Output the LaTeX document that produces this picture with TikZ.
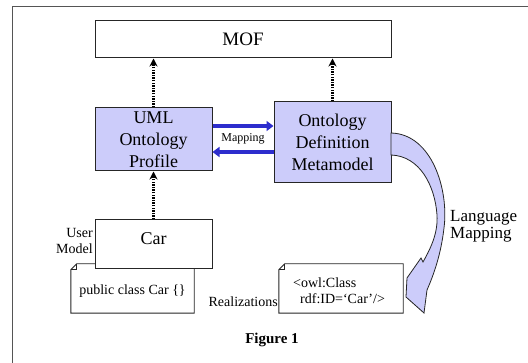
\documentclass[tikz,border=0pt]{standalone}
\usepackage{fontspec}
\setmainfont{Liberation Serif}
\usetikzlibrary{arrows.meta,calc}
\definecolor{boxfill}{RGB}{204,204,250}
\definecolor{bluearr}{RGB}{45,45,205}
\definecolor{framecol}{RGB}{85,85,85}
\tikzset{
  box/.style={draw=black!85, line width=1pt, inner sep=0pt, align=center, font=\fontsize{18}{22}\selectfont},
  umlbox/.style={box, fill=boxfill},
  notetext/.style={inner sep=0pt, font=\fontsize{14}{18}\selectfont},
  notebox/.style={draw=black!85, line width=0.9pt, fill=white},
  dotarr/.style={line width=2.4pt, dash pattern=on 1.4pt off 1.2pt, -{Stealth[length=8pt,width=8pt]}},
  bluearrow/.style={draw=bluearr, line width=4.5pt, -{Triangle[length=7pt,width=10pt]}},
  lbl/.style={inner sep=0pt, font=\fontsize{14}{17}\selectfont},
}
\begin{document}
\begin{tikzpicture}[x=1pt,y=-1pt]
\useasboundingbox (0,0) rectangle (528,363);
\fill[white] (0,0) rectangle (528,363);
% frame
\draw[framecol, line width=1pt] (12,363) -- (12,7) -- (528,7);

% boxes
\node[box, minimum width=296pt, minimum height=37pt, font=\fontsize{19}{22}\selectfont] (mof) at (243,39.5) {MOF};
\node[umlbox, minimum width=117pt, minimum height=63pt] (uml) at (153.5,139.5) {UML\\Ontology\\Profile};
\node[umlbox, minimum width=117pt, minimum height=81pt] (odm) at (332.5,142.5) {Ontology\\Definition\\Metamodel};

% public class note
\node[notetext, minimum width=123pt, minimum height=49pt] (pcc) at (132.5,288.5) {};
\draw[notebox] ($(pcc.north west)+(0,6)$) -- ($(pcc.north west)+(6,0)$) -- (pcc.north east) -- (pcc.south east) -- (pcc.south west) -- cycle;
\draw[black!85, line width=0.7pt] ($(pcc.north west)+(6,0)$) -- ($(pcc.north west)+(6,6)$) -- ($(pcc.north west)+(0,6)$);
\node[notetext] (pcct) at (132.5,291) {public class Car \{\}};

\node[box, fill=white, minimum width=117pt, minimum height=49pt] (car) at (153.5,244.5) {};
\node[inner sep=0pt, font=\fontsize{18}{22}\selectfont] (cart) at (153.5,239) {Car};

% owl note
\node[notetext, minimum width=124pt, minimum height=49pt] (owl) at (341,288.5) {};
\draw[notebox] ($(owl.north west)+(0,6)$) -- ($(owl.north west)+(6,0)$) -- (owl.north east) -- (owl.south east) -- (owl.south west) -- cycle;
\draw[black!85, line width=0.7pt] ($(owl.north west)+(6,0)$) -- ($(owl.north west)+(6,6)$) -- ($(owl.north west)+(0,6)$);
\node[notetext, anchor=west] (owl1) at (293,283) {<owl:Class};
\node[notetext, anchor=west] (owl2) at (300,299) {rdf:ID=‘Car’/>};

% dotted arrows
\draw[dotarr] (uml.north) -- (uml.north |- mof.south);
\draw[dotarr] (odm.north) -- (odm.north |- mof.south);
\draw[dotarr] (car.north) -- (uml.south);

% blue mapping arrows
\draw[bluearrow] (uml.east |- {(0,126)}) -- (odm.west |- {(0,126)});
\draw[bluearrow] (odm.west |- {(0,152)}) -- (uml.east |- {(0,152)});
\node[inner sep=0pt, font=\fontsize{12}{14}\selectfont] (map) at (243,138.5) {Mapping};

% curved language mapping arrow
\draw[fill=boxfill, draw=black!85, line width=0.8pt]
  (391,133) .. controls (432,134) and (449,190) .. (444,228)
  .. controls (441,254) and (434,274) .. (427,290)
  -- (424,313) -- (406,297) -- (407,278) -- (421,258) -- (423,262)
  .. controls (432,246) and (438,232) .. (437,215)
  .. controls (435,186) and (420,156) .. (391,155) -- cycle;

% labels
\node[inner sep=0pt, anchor=west, font=\fontsize{17}{17}\selectfont] (lang) at (450,217.5) {Language};
\node[inner sep=0pt, anchor=west, font=\fontsize{17}{17}\selectfont] (langm) at (450,234.5) {Mapping};
\node[lbl, anchor=east, align=right, font=\fontsize{14}{16}\selectfont] (user) at (93,241) {User\\Model};
\node[lbl, anchor=east] (real) at (278,302) {Realizations};
\node[inner sep=0pt, font=\bfseries\fontsize{15}{18}\selectfont] (fig) at (272,340) {Figure 1};
\end{tikzpicture}
\end{document}
